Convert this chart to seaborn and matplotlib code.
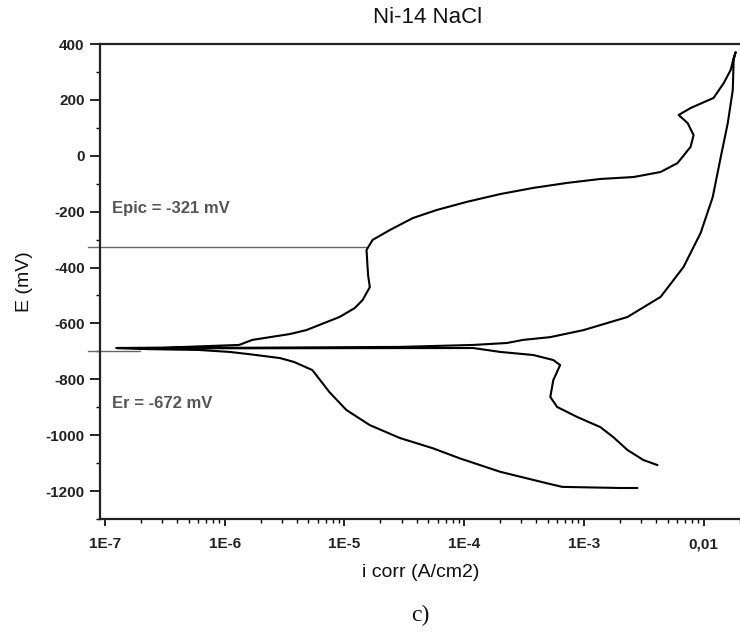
import matplotlib
matplotlib.use("Agg")
import matplotlib.pyplot as plt
import seaborn as sns
import pandas as pd
import numpy as np
from matplotlib.ticker import FixedLocator, LogLocator, NullFormatter, MultipleLocator

# --- data (scan order) ---
current = [2.80e-3, 2.02e-3, 6.6e-4, 4.9e-4, 2.0e-4, 9.2e-5, 5.5e-5, 2.9e-5, 1.63e-5,
           1.04e-5, 7.5e-6, 5.4e-6, 3.8e-6, 2.9e-6, 1.6e-6, 1.1e-6, 6.1e-7, 2.3e-7, 1.25e-7,
           3.0e-7, 1.32e-6, 1.70e-6, 3.5e-6, 4.8e-6, 9.1e-6, 1.22e-5, 1.42e-5, 1.63e-5,
           1.58e-5, 1.56e-5, 1.53e-5, 1.72e-5, 2.39e-5, 3.72e-5, 5.9e-5, 1.05e-4, 2.0e-4,
           3.77e-4, 7.26e-4, 1.37e-3, 2.6e-3, 4.37e-3, 6.05e-3, 7.78e-3, 8.24e-3, 7.35e-3,
           6.18e-3, 7.78e-3, 1.21e-2, 1.47e-2, 1.68e-2, 1.78e-2, 1.85e-2,
           1.78e-2, 1.75e-2, 1.59e-2, 1.39e-2, 1.19e-2, 9.44e-3, 6.79e-3, 4.37e-3, 2.31e-3,
           9.9e-4, 5.24e-4, 3.1e-4, 2.28e-4, 1.19e-4, 2.9e-5, 1.5e-6, 1.25e-7,
           1.5e-6, 1.19e-4, 2.0e-4, 3.77e-4, 5.55e-4, 6.33e-4, 5.55e-4, 5.24e-4, 5.98e-4,
           8.8e-4, 1.37e-3, 1.76e-3, 2.31e-3, 3.14e-3, 4.12e-3]
potential = [-1189, -1189, -1185, -1172, -1131, -1083, -1047, -1010, -964,
             -910, -846, -767, -738, -724, -710, -702, -695, -692, -688,
             -687, -677, -659, -638, -624, -577, -545, -516, -470,
             -430, -398, -337, -301, -266, -223, -194, -165, -137,
             -115, -97, -83, -76, -58, -26, 32, 74, 117,
             146, 171, 207, 260, 307, 350, 371,
             343, 235, 117, -4, -148, -276, -398, -505, -577,
             -624, -649, -659, -670, -677, -684, -687, -688,
             -689, -688, -702, -713, -731, -749, -803, -863, -899,
             -935, -971, -1007, -1053, -1089, -1107]

epic_value = -325
er_value = -700
epic_label = "Epic = -321 mV"
er_label = "Er = -672 mV"
x_tick_values = [1e-7, 1e-6, 1e-5, 1e-4, 1e-3, 1e-2]
x_tick_labels = ["1E-7", "1E-6", "1E-5", "1E-4", "1E-3", "0,01"]
y_tick_values = [400, 200, 0, -200, -400, -600, -800, -1000, -1200]
y_tick_labels = ["400", "200", "0", "-200", "-400", "-600", "-800", "-1000", "-1200"]

df = pd.DataFrame({"i": current, "E": potential, "order": np.arange(len(current))})

sns.set_theme(style="white")
plt.rcParams['font.family'] = ['Liberation Sans', 'DejaVu Sans']
plt.rcParams['axes.unicode_minus'] = False

fig = plt.figure(figsize=(7.4, 6.38), dpi=100)
ax = fig.add_axes([0.135, 0.1865, 0.866, 0.7445])

sns.lineplot(data=df, x="i", y="E", sort=False, estimator=None, color="black",
             linewidth=1.5, ax=ax)
ax.set_xscale("log")
xmin, xmax = 9.08e-8, 2.04e-2
ax.set_xlim(xmin, xmax)
ax.set_ylim(-1300, 400)

# reference lines
ax.plot([7.2e-8, 1.55e-5], [epic_value, epic_value], color="#666666", lw=1.0, clip_on=False, zorder=1)
ax.plot([7.2e-8, 1.95e-7], [er_value, er_value], color="#666666", lw=1.0, clip_on=False, zorder=1)

ax.text(1.15e-7, -190, epic_label, fontsize=12, fontweight="bold", color="#555555",
        va="center", ha="left")
ax.text(1.15e-7, -888, er_label, fontsize=12, fontweight="bold", color="#555555",
        va="center", ha="left")

# ticks
ax.xaxis.set_major_locator(FixedLocator(x_tick_values))
ax.set_xticklabels(x_tick_labels)
ax.xaxis.set_minor_locator(LogLocator(base=10, subs=np.arange(2, 10)))
ax.xaxis.set_minor_formatter(NullFormatter())
ax.yaxis.set_major_locator(FixedLocator(y_tick_values))
ax.set_yticklabels(y_tick_labels)
ax.yaxis.set_minor_locator(MultipleLocator(100))
ax.tick_params(bottom=True, left=True, top=False, right=False, which="both")
ax.tick_params(axis="both", which="major", direction="out", width=1.2,
               color="black", labelsize=11, labelcolor="#222222")
ax.tick_params(axis="both", which="minor", direction="out", length=3, width=1.0, color="black")
ax.tick_params(axis="y", which="major", length=7, pad=4)
ax.tick_params(axis="x", which="major", length=5, pad=8)
for lab in ax.get_xticklabels() + ax.get_yticklabels():
    lab.set_fontweight("bold")

for s in ["left", "bottom", "top"]:
    ax.spines[s].set_visible(True)
    ax.spines[s].set_color("#222222")
    ax.spines[s].set_linewidth(1.6)
ax.spines["right"].set_visible(False)
ax.grid(False)

ax.set_xlabel("i corr (A/cm2)", fontsize=14, labelpad=9, color="#111111")
ax.set_ylabel("E (mV)", fontsize=14, labelpad=9, color="#111111")

fig.text(0.578, 0.972, "Ni-14 NaCl", fontsize=16, ha="center", va="center", color="#111111")
fig.text(0.568, 0.036, "c)", fontsize=17, ha="center", va="center",
         family=["Liberation Serif", "DejaVu Serif"], color="#111111")

fig.savefig("out.png", dpi=100, facecolor="white")
